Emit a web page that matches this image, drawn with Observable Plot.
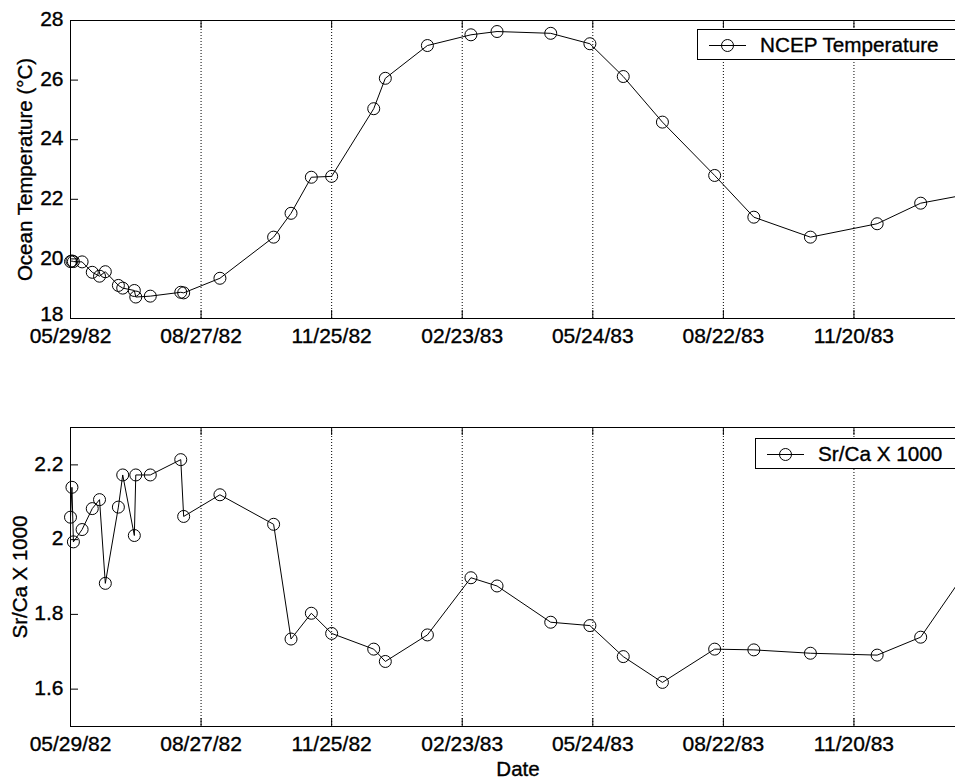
<!DOCTYPE html>
<html>
<head>
<meta charset="utf-8">
<script src="https://cdn.jsdelivr.net/npm/d3@7"></script>
<script src="https://cdn.jsdelivr.net/npm/@observablehq/plot@0.6"></script>
<style>
  html, body { margin: 0; padding: 0; background: #fff; }
  #wrap { position: relative; width: 955px; height: 781px; overflow: hidden; font-family: "Liberation Sans", Arial, sans-serif; }
  #wrap svg { display: block; }
  #wrap svg text { stroke: #000; stroke-width: 0.35px; }
  .legend { position: absolute; border: 1px solid #000; background: #fff; box-sizing: border-box; height: 31px; font-size: 20.7px; color: #000; white-space: nowrap; -webkit-text-stroke: 0.35px #000; }
  .legend svg { position: absolute; left: 0; top: 0; }
  .legend span { position: absolute; top: 3px; line-height: 24px; }
</style>
</head>
<body>
<div id="wrap"></div>
<script>
// ---- data ----
const sampleDates = [
  "1982-05-29","1982-05-30","1982-05-31","1982-06-06","1982-06-13","1982-06-18","1982-06-22",
  "1982-07-01","1982-07-04","1982-07-12","1982-07-13","1982-07-23","1982-08-13","1982-08-15",
  "1982-09-09","1982-10-16","1982-10-28","1982-11-11","1982-11-25","1982-12-24","1983-01-01",
  "1983-01-30","1983-03-01","1983-03-19","1983-04-25","1983-05-22","1983-06-14","1983-07-11",
  "1983-08-16","1983-09-12","1983-10-21","1983-12-06","1984-01-05","1984-02-08"
];
const temperature = [
  19.91, 19.93, 19.91, 19.90, 19.55, 19.42, 19.57,
  19.11, 19.02, 18.94, 18.72, 18.75, 18.88, 18.86,
  19.35, 20.73, 21.53, 22.74, 22.77, 25.04, 26.06,
  27.16, 27.52, 27.63, 27.57, 27.22, 26.12, 24.59,
  22.80, 21.40, 20.73, 21.18, 21.87, 22.18
];
const srcaValues = [
  2.060, 2.140, 1.994, 2.027, 2.083, 2.107, 1.883,
  2.087, 2.173, 2.011, 2.173, 2.173, 2.214, 2.062,
  2.120, 2.041, 1.734, 1.803, 1.749, 1.707, 1.674,
  1.745, 1.898, 1.876, 1.779, 1.770, 1.687, 1.618,
  1.707, 1.705, 1.696, 1.691, 1.739, 1.930
];
const tickDates = ["1982-05-29","1982-08-27","1982-11-25","1983-02-23","1983-05-24","1983-08-22","1983-11-20"];
const xDomain = ["1982-05-29","1984-01-29"];
const tempTicks = [18, 20, 22, 24, 26, 28];
const tempDomain = [18, 28];
const srcaTicks = [1.6, 1.8, 2, 2.2];
const srcaDomain = [1.5, 2.3];
const labels = {
  temp: "Ocean Temperature (°C)",
  srca: "Sr/Ca X 1000",
  x: "Date",
  legendTemp: "NCEP Temperature",
  legendSrca: "Sr/Ca X 1000"
};

// ---- build ----
const parse = d3.utcParse("%Y-%m-%d");
const rows = sampleDates.map((d, i) => ({date: parse(d), temp: temperature[i], srca: srcaValues[i]}));
const xTicks = tickDates.map(parse);
const xDom = xDomain.map(parse);
const fmt = d3.utcFormat("%m/%d/%y");
const W = 955, ML = 70, MR = 0;

function panel({key, yDomain, yTicks, yLabel, yLabelDx, height, marginTop, marginBottom, xLabel, lowTickDy}) {
  const ph = height - marginTop - marginBottom;
  const pw = W - ML - MR;
  const yAxisOpts = {anchor: "left", tickSize: 0, tickPadding: 7, tickFormat: d => String(d), label: null, fontSize: 21};
  const marks = [
    Plot.ruleX(xTicks.slice(1), {stroke: "#000", strokeWidth: 1, strokeDasharray: "1,2"}),
    Plot.tickX(xTicks, {stroke: "#000", insetTop: ph - 8}),
    Plot.tickX(xTicks, {stroke: "#000", insetBottom: ph - 8}),
    Plot.tickY(yTicks, {stroke: "#000", insetRight: pw - 8}),
    Plot.ruleY([yDomain[0]], {stroke: "#000"}),
    Plot.ruleY([yDomain[1]], {stroke: "#000"}),
    Plot.ruleX([xDom[0]], {stroke: "#000"}),
    Plot.axisX(xTicks, {anchor: "bottom", tickSize: 0, tickPadding: 10, tickFormat: fmt, label: null, fontSize: 21}),
    Plot.axisY(yTicks.filter(t => t !== yDomain[0]), {...yAxisOpts, dy: -1}),
    Plot.axisY(yTicks.filter(t => t === yDomain[0]), {...yAxisOpts, dy: lowTickDy}),
    Plot.text([yLabel], {text: d => d, frameAnchor: "left", rotate: -90, textAnchor: "middle", lineAnchor: "middle", dx: yLabelDx, fontSize: 20.5}),
    Plot.line(rows, {x: "date", y: key, stroke: "#000", strokeWidth: 1}),
    Plot.dot(rows, {x: "date", y: key, r: 6, stroke: "#000", strokeWidth: 1, fill: "none"})
  ];
  if (xLabel) marks.push(Plot.text([xLabel], {text: d => d, frameAnchor: "bottom", textAnchor: "middle", lineAnchor: "middle", dx: 5, dy: 43, fontSize: 20.5}));
  return Plot.plot({
    width: W, height, marginLeft: ML, marginRight: MR, marginTop, marginBottom,
    style: {fontFamily: "'Liberation Sans', Arial, sans-serif", fontSize: "21px", color: "#000", background: "#fff"},
    x: {type: "utc", domain: xDom},
    y: {domain: yDomain},
    marks
  });
}

const wrap = document.getElementById("wrap");
wrap.appendChild(panel({key: "temp", yDomain: tempDomain, yTicks: tempTicks, yLabel: labels.temp,
  yLabelDx: -45, height: 400, marginTop: 20, marginBottom: 82, xLabel: null, lowTickDy: -4}));
wrap.appendChild(panel({key: "srca", yDomain: srcaDomain, yTicks: srcaTicks, yLabel: labels.srca,
  yLabelDx: -50, height: 381, marginTop: 27, marginBottom: 55, xLabel: labels.x, lowTickDy: -1}));

function legend(left, top, text) {
  const div = document.createElement("div");
  div.className = "legend";
  div.style.left = left + "px";
  div.style.top = top + "px";
  div.style.width = (W - left + 20) + "px";
  div.innerHTML = `<svg width="60" height="31"><line x1="11" x2="48" y1="15.5" y2="15.5" stroke="#000"/>` +
    `<circle cx="29.5" cy="15.5" r="6" fill="none" stroke="#000"/></svg><span style="left:62px">${text}</span>`;
  wrap.appendChild(div);
}
legend(697, 29, labels.legendTemp);
legend(755, 438, labels.legendSrca);
</script>
</body>
</html>
